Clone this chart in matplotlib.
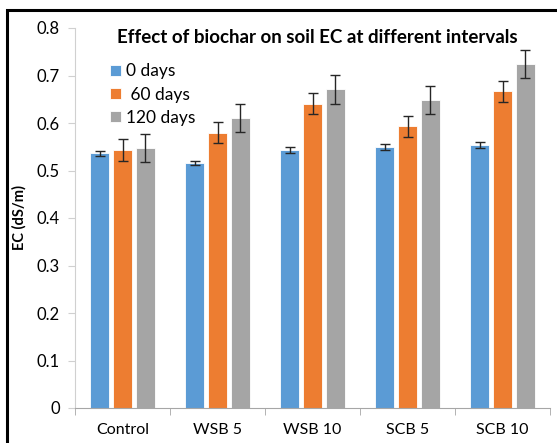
import matplotlib.pyplot as plt
import numpy as np
from matplotlib.patches import Rectangle

# ---------- Data ----------------------------------------------
categories = ['Control', 'WSB 5', 'WSB 10', 'SCB 5', 'SCB 10']
series_names = ['0 days', ' 60 days', '120 days']

ec_0 = [0.536, 0.516, 0.543, 0.549, 0.553]
ec_60 = [0.543, 0.580, 0.641, 0.593, 0.667]
ec_120 = [0.547, 0.611, 0.671, 0.648, 0.724]

err_0 = [0.006, 0.005, 0.006, 0.006, 0.006]
err_60 = [0.023, 0.022, 0.022, 0.022, 0.022]
err_120 = [0.030, 0.030, 0.030, 0.029, 0.029]

yticks = [0, 0.1, 0.2, 0.3, 0.4, 0.5, 0.6, 0.7, 0.8]
ytick_labels = ['0', '0.1', '0.2', '0.3', '0.4', '0.5', '0.6', '0.7', '0.8']

colors = ['#5B9BD5', '#ED7D31', '#A5A5A5']

plt.rcParams['font.family'] = ['Lato', 'DejaVu Sans']

# ---------- Plot ----------------------------------------------
fig = plt.figure(figsize=(5.57, 4.43), dpi=100)
ax = fig.add_axes([75 / 557, 1 - 408 / 443, 475 / 557, 380 / 443])

x = np.arange(len(categories))
width = 0.205
step = 0.242

values = [ec_0, ec_60, ec_120]
errors = [err_0, err_60, err_120]
for i in range(3):
    ax.bar(x + (i - 1) * step, values[i], width, color=colors[i],
           edgecolor='white', linewidth=0.6, label=series_names[i],
           yerr=errors[i], capsize=3.5,
           error_kw={'ecolor': '#262626', 'elinewidth': 1, 'capthick': 1})

ax.set_xlim(-0.5, len(categories) - 0.5)
ax.set_ylim(0, 0.8)
ax.set_yticks(yticks)
ax.set_yticklabels(ytick_labels, fontsize=12)
ax.set_xticks(x)
ax.set_xticklabels(categories, fontsize=11.5)
ax.set_xticks(np.arange(-0.5, len(categories)), minor=True)
ax.tick_params(axis='x', which='major', length=0, pad=11)
ax.tick_params(axis='x', which='minor', length=5, color='#A6A6A6')
ax.tick_params(axis='y', length=5, color='#D0D0D0', pad=6)

for side in ['top', 'right']:
    ax.spines[side].set_visible(False)
ax.spines['left'].set_color('#D0D0D0')
ax.spines['bottom'].set_color('#A6A6A6')

ax.set_ylabel('EC (dS/m)', fontsize=10.5, fontweight='bold', labelpad=7)

ax.text(0.51, 0.975, 'Effect of biochar on soil EC at different intervals',
        transform=ax.transAxes, ha='center', va='center',
        fontsize=13.5, fontweight='bold')

ax.legend(loc='upper left', bbox_to_anchor=(0.06, 0.925), frameon=False,
          fontsize=12.5, handlelength=0.6, handleheight=0.6,
          handletextpad=0.3, labelspacing=0.42, borderaxespad=0)

# black frame around figure (left and top visible)
fig.patches.append(Rectangle((7 / 557, -0.1), 1.2, 1.1 - 10 / 443,
                             transform=fig.transFigure, fill=False,
                             edgecolor='black', linewidth=2.2))

plt.savefig('out.png', dpi=100)
